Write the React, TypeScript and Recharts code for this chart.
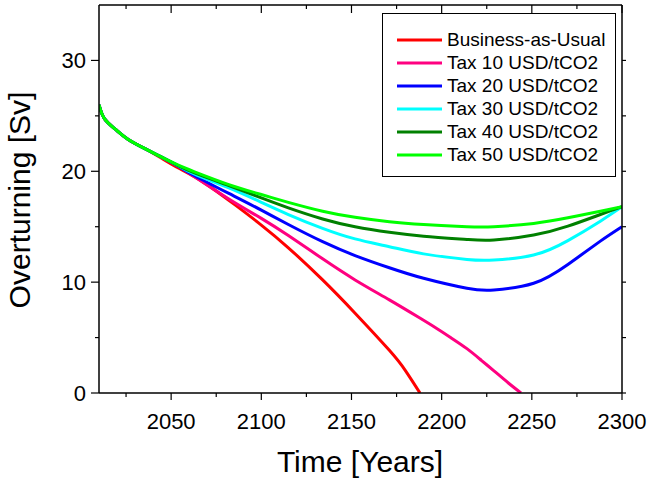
import { Legend, Line, LineChart, XAxis, YAxis } from "recharts"

const font = '"Liberation Sans", Arial, sans-serif'

// years sampled for the four upper scenarios
const years = [2010, 2013, 2019, 2026, 2036, 2045, 2054, 2063, 2082, 2100, 2115, 2134, 2152, 2171, 2190, 2214, 2229, 2251, 2270, 2288, 2300]
const bauYears = [2010, 2013, 2019, 2026, 2036, 2045, 2054, 2068, 2086, 2100, 2115, 2134, 2152, 2171, 2180, 2188]
const tax10Years = [2010, 2013, 2019, 2026, 2036, 2045, 2054, 2063, 2082, 2100, 2115, 2134, 2152, 2171, 2187, 2196, 2205, 2214, 2222, 2229, 2237, 2244]

const bau = [26.0, 24.75, 23.8, 22.9, 22.0, 21.15, 20.3, 19.0, 16.9, 15.15, 13.1, 10.2, 7.2, 3.85, 2.0, 0]
const tax10 = [26.0, 24.75, 23.8, 22.9, 22.0, 21.25, 20.45, 19.5, 17.5, 15.75, 14.2, 12.1, 10.2, 8.4, 6.85, 5.95, 5.0, 4.0, 2.95, 2.0, 0.9, 0]
const tax20 = [26.0, 24.75, 23.8, 22.9, 22.0, 21.25, 20.45, 19.6, 18.0, 16.5, 15.2, 13.65, 12.4, 11.3, 10.35, 9.45, 9.3, 9.9, 11.6, 13.7, 15.0]
const tax30 = [26.0, 24.75, 23.8, 22.9, 22.0, 21.25, 20.5, 19.75, 18.5, 17.2, 16.1, 14.85, 13.9, 13.2, 12.55, 12.05, 12.0, 12.45, 13.75, 15.5, 16.8]
const tax40 = [26.0, 24.75, 23.8, 22.9, 22.0, 21.25, 20.5, 19.85, 18.7, 17.6, 16.7, 15.7, 15.0, 14.5, 14.15, 13.85, 13.8, 14.25, 15.05, 16.1, 16.8]
const tax50 = [26.0, 24.75, 23.8, 22.9, 22.0, 21.25, 20.55, 19.95, 18.8, 17.9, 17.2, 16.4, 15.85, 15.45, 15.2, 15.0, 15.0, 15.3, 15.8, 16.4, 16.8]

const xTicks = [2025, 2050, 2075, 2100, 2125, 2150, 2175, 2200, 2225, 2250, 2275, 2300]
const yTicks = [0, 5, 10, 15, 20, 25, 30]

const toRows = (xs: number[], vs: number[]) => xs.map((year, i) => ({ year, v: vs[i] }))

const series = [
  { name: "Business-as-Usual", color: "#ff0000", data: toRows(bauYears, bau) },
  { name: "Tax 10 USD/tCO2", color: "#ff0080", data: toRows(tax10Years, tax10) },
  { name: "Tax 20 USD/tCO2", color: "#0000ff", data: toRows(years, tax20) },
  { name: "Tax 30 USD/tCO2", color: "#00ffff", data: toRows(years, tax30) },
  { name: "Tax 40 USD/tCO2", color: "#008000", data: toRows(years, tax40) },
  { name: "Tax 50 USD/tCO2", color: "#00ff00", data: toRows(years, tax50) },
]

function LeftTick(props: any) {
  const { x, y, payload } = props
  const major = payload.value % 10 === 0
  return (
    <g>
      <line x1={x} x2={x - (major ? 8 : 4)} y1={y} y2={y} stroke="#000" strokeWidth={1.2} />
      {major && (
        <text x={x - 13} y={y + 8} textAnchor="end" fontSize={22} fontFamily={font} fill="#000">
          {payload.value}
        </text>
      )}
    </g>
  )
}

function RightTick(props: any) {
  const { x, y } = props
  return <line x1={x} x2={x + 4} y1={y} y2={y} stroke="#000" strokeWidth={1.2} />
}

function BottomTick(props: any) {
  const { x, y, payload } = props
  const major = payload.value % 50 === 0
  return (
    <g>
      <line x1={x} x2={x} y1={y} y2={y + (major ? 7 : 4)} stroke="#000" strokeWidth={1.2} />
      {major && (
        <text x={x} y={y + 36} textAnchor="middle" fontSize={22} fontFamily={font} fill="#000">
          {payload.value}
        </text>
      )}
    </g>
  )
}

function TopTick(props: any) {
  const { x, y, payload } = props
  const major = payload.value % 50 === 0
  return <line x1={x} x2={x} y1={y} y2={y + (major ? 8 : 4)} stroke="#000" strokeWidth={1.2} />
}

function XTitle() {
  return (
    <text x={360} y={472} textAnchor="middle" fontSize={30} fontFamily={font} fill="#000">
      Time [Years]
    </text>
  )
}

function YTitle() {
  return (
    <text
      x={30}
      y={200}
      transform="rotate(-90 30 200)"
      textAnchor="middle"
      fontSize={30}
      fontFamily={font}
      fill="#000"
    >
      Overturning [Sv]
    </text>
  )
}

function LegendBox() {
  return (
    <div
      style={{
        width: 234,
        height: 164,
        border: "1px solid #000",
        background: "#fff",
        paddingTop: 14,
        boxSizing: "border-box",
        fontFamily: font,
        fontSize: 19,
        textAlign: "left",
      }}
    >
      {series.map((s) => (
        <div key={s.name} style={{ display: "flex", alignItems: "center", height: 23 }}>
          <svg width={64} height={23} style={{ flex: "none" }}>
            <line x1={14} x2={59} y1={12} y2={12} stroke={s.color} strokeWidth={3} />
          </svg>
          <span style={{ color: "#000", whiteSpace: "nowrap", lineHeight: "23px" }}>{s.name}</span>
        </div>
      ))}
    </div>
  )
}

export default function App() {
  return (
    <div style={{ position: "fixed", left: 0, top: 0, width: 652, height: 481, background: "#fff" }}>
      <LineChart width={652} height={481} margin={{ top: 0, right: 0, bottom: 0, left: 0 }}>
        <XAxis
          dataKey="year"
          type="number"
          domain={[2010, 2300]}
          allowDataOverflow
          ticks={xTicks}
          interval={0}
          height={88}
          tickSize={0}
          tickMargin={0}
          tickLine={false}
          tick={<BottomTick />}
          axisLine={{ stroke: "#000", strokeWidth: 1.5 }}
          label={<XTitle />}
        />
        <XAxis
          xAxisId="top"
          orientation="top"
          dataKey="year"
          type="number"
          domain={[2010, 2300]}
          allowDataOverflow
          ticks={xTicks}
          interval={0}
          height={5}
          tickSize={0}
          tickMargin={0}
          tickLine={false}
          tick={<TopTick />}
          axisLine={{ stroke: "#000", strokeWidth: 1.5 }}
        />
        <YAxis
          type="number"
          domain={[0, 35]}
          allowDataOverflow
          ticks={yTicks}
          interval={0}
          width={99}
          tickSize={0}
          tickMargin={0}
          tickLine={false}
          tick={<LeftTick />}
          axisLine={{ stroke: "#000", strokeWidth: 1.5 }}
          label={<YTitle />}
        />
        <YAxis
          yAxisId="right"
          orientation="right"
          type="number"
          domain={[0, 35]}
          allowDataOverflow
          ticks={yTicks}
          interval={0}
          width={30}
          tickSize={0}
          tickMargin={0}
          tickLine={false}
          tick={<RightTick />}
          axisLine={{ stroke: "#000", strokeWidth: 1.5 }}
        />
        {series.map((s) => (
          <Line
            key={s.name}
            data={s.data}
            dataKey="v"
            name={s.name}
            type="natural"
            stroke={s.color}
            strokeWidth={3}
            dot={false}
            activeDot={false}
            isAnimationActive={false}
          />
        ))}
        <Legend
          content={<LegendBox />}
          layout="horizontal"
          verticalAlign="middle"
          align="center"
          wrapperStyle={{ left: 382, top: 13, width: 234, height: 164 }}
        />
      </LineChart>
    </div>
  )
}
